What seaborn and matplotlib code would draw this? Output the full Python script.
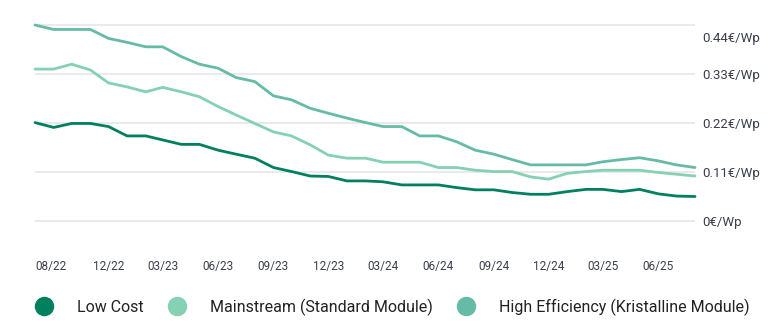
import matplotlib
matplotlib.use("Agg")
import matplotlib.pyplot as plt
from matplotlib.lines import Line2D
from matplotlib.transforms import ScaledTranslation
import seaborn as sns
import pandas as pd
import numpy as np

months = pd.date_range("2022-08-01", "2025-08-01", freq="MS")

low_cost = [0.221, 0.210, 0.219, 0.219, 0.212, 0.191, 0.191, 0.182, 0.172, 0.172,
            0.159, 0.150, 0.141, 0.120, 0.111, 0.101, 0.100, 0.090, 0.090, 0.088,
            0.081, 0.081, 0.081, 0.075, 0.070, 0.070, 0.064, 0.060, 0.060, 0.066,
            0.071, 0.071, 0.066, 0.071, 0.061, 0.056, 0.055]
mainstream = [0.341, 0.341, 0.352, 0.339, 0.310, 0.301, 0.290, 0.300, 0.290, 0.279,
              0.257, 0.238, 0.219, 0.200, 0.191, 0.171, 0.148, 0.141, 0.141, 0.132,
              0.132, 0.132, 0.120, 0.120, 0.114, 0.111, 0.111, 0.099, 0.094, 0.107,
              0.111, 0.114, 0.114, 0.114, 0.109, 0.105, 0.101]
high_eff = [0.440, 0.430, 0.430, 0.430, 0.410, 0.401, 0.391, 0.391, 0.369, 0.352,
            0.343, 0.322, 0.313, 0.281, 0.272, 0.253, 0.242, 0.231, 0.221, 0.212,
            0.212, 0.191, 0.191, 0.178, 0.159, 0.150, 0.138, 0.126, 0.126, 0.126,
            0.126, 0.133, 0.138, 0.142, 0.135, 0.126, 0.120]

series_names = ["Low Cost", "Mainstream (Standard Module)", "High Efficiency (Kristalline Module)"]
colors = ["#00805f", "#84d1b3", "#66bba6"]

tick_dates = pd.to_datetime(["2022-08-01", "2022-12-01", "2023-03-01", "2023-06-01",
                             "2023-09-01", "2023-12-01", "2024-03-01", "2024-06-01",
                             "2024-09-01", "2024-12-01", "2025-03-01", "2025-06-01"])
tick_labels = ["08/22", "12/22", "03/23", "06/23", "09/23", "12/23", "03/24", "06/24",
               "09/24", "12/24", "03/25", "06/25"]
y_ticks = [0, 0.11, 0.22, 0.33, 0.44]
y_labels = ["0€/Wp", "0.11€/Wp", "0.22€/Wp", "0.33€/Wp", "0.44€/Wp"]

df = pd.DataFrame({
    "date": np.tile(months, 3),
    "value": low_cost + mainstream + high_eff,
    "series": np.repeat(series_names, len(months)),
})

sns.set_theme(style="white")
plt.rcParams["font.family"] = ["Roboto", "DejaVu Sans"]

W, H = 780, 334
fig = plt.figure(figsize=(W / 100, H / 100), dpi=100)
# y: 0 at px 221, 0.44 at px 25 ; ylim -0.01..0.45
scale = (221 - 25) / 0.44
y0 = -0.01
y1 = 0.45
bottom_px = 221 + (0 - y0) * scale
top_px = 221 - y1 * scale
ax = fig.add_axes([35 / W, 1 - bottom_px / H, (695 - 35) / W, (bottom_px - top_px) / H])

sns.lineplot(data=df, x="date", y="value", hue="series", hue_order=series_names,
             palette=colors, linewidth=2.0, legend=False, ax=ax)
for ln in ax.lines:
    ln.set_clip_on(False)
    ln.set_solid_capstyle("round")
    ln.set_solid_joinstyle("round")

ax.set_xlim(months[0], months[-1])
ax.set_ylim(y0, y1)
for s in ax.spines.values():
    s.set_visible(False)

for yt in y_ticks:
    ax.axhline(yt, color="#e6e6eb", linewidth=1.2, zorder=0)

ax.yaxis.tick_right()
ax.set_yticks(y_ticks)
ax.set_yticklabels(y_labels)
ax.tick_params(axis="y", length=0, pad=5, labelsize=9.5, labelcolor="#3a3f4d")
ylabs = ax.get_yticklabels()
top_lab = ylabs[-1]
top_lab.set_transform(top_lab.get_transform() + ScaledTranslation(0, -12 / 100, fig.dpi_scale_trans))

ax.set_xticks(tick_dates)
ax.set_xticklabels(tick_labels)
ax.tick_params(axis="x", length=0, pad=25, labelsize=8.5, labelcolor="#3a3f4d")
ax.get_xticklabels()[0].set_horizontalalignment("left")
ax.set_xlabel("")
ax.set_ylabel("")

handles = [Line2D([], [], linestyle="none", marker="o", markersize=13,
                  markerfacecolor=c, markeredgecolor=c) for c in colors]
fig.legend(handles, series_names, loc="center left",
           bbox_to_anchor=(35 / W, 1 - 307 / H), ncol=3, frameon=False,
           fontsize=11.5, handlelength=1.15, handletextpad=1.5, columnspacing=1.5,
           borderpad=0, borderaxespad=0, labelcolor="#222222")

fig.savefig("out.png", dpi=100, facecolor="white")
